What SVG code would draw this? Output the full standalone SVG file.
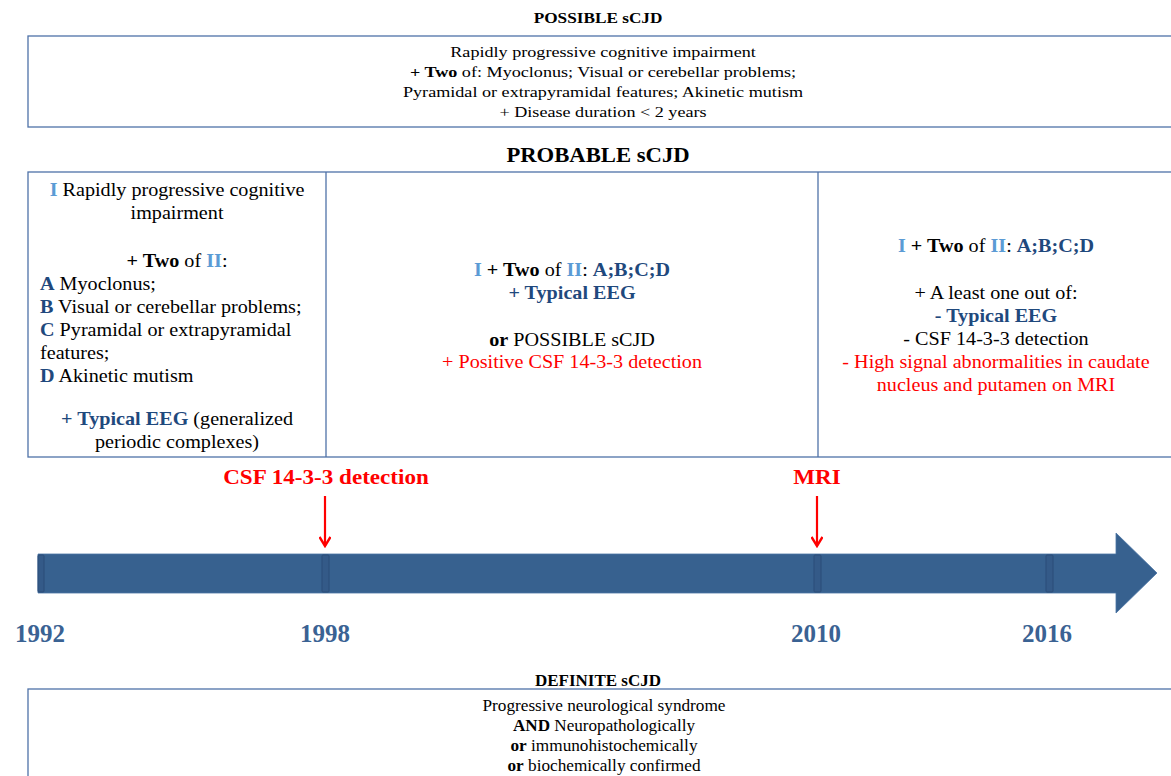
<svg xmlns="http://www.w3.org/2000/svg" width="1171" height="776" viewBox="0 0 1171 776">
<style>
text{font-family:"Liberation Serif","Times New Roman",serif;fill:#000}
.c{text-anchor:middle}
.b{font-weight:bold}
.lb{fill:#5b9bd5;font-weight:bold}
.db{fill:#1f497d;font-weight:bold}
.rd{fill:#ff0000}
.box{fill:#fff;stroke:#4f72a8;stroke-width:1.3}
.t15{font-size:15px}
.t18{font-size:18px}
.yr{font-size:25px;font-weight:bold;fill:#3a6293;text-anchor:middle}
.tick{fill:#345a88;stroke:#2b4d78;stroke-width:1}
.ra{stroke:#ff0000;stroke-width:2.2;fill:none}
</style>
<defs>
<marker id="ah" markerWidth="12" markerHeight="12" refX="10" refY="6" orient="auto" markerUnits="userSpaceOnUse" viewBox="0 0 12 12">
<path d="M1,0.5 L10,6 L1,11.5" fill="none" stroke="#ff0000" stroke-width="2.4"/>
</marker>
</defs>

<g id="possible">
<text class="c b" x="598" y="23" font-size="14" transform="matrix(1.23,0,0,1,-137.5,0)">POSSIBLE sCJD</text>
<rect class="box" x="28" y="36" width="1160" height="91"/>
<g transform="matrix(1.21,0,0,1,-126.6,0)">
<text class="c t15" x="603" y="57">Rapidly progressive cognitive impairment</text>
<text class="c t15" x="603" y="77"><tspan class="b">+ Two</tspan> of: Myoclonus; Visual or cerebellar problems;</text>
<text class="c t15" x="603" y="97">Pyramidal or extrapyramidal features; Akinetic mutism</text>
<text class="c t15" x="603" y="117">+ Disease duration &lt; 2 years</text>
</g>
</g>

<g id="probable">
<text class="c b" x="598" y="162" font-size="21" transform="matrix(1.08,0,0,1,-47.8,0)">PROBABLE sCJD</text>
<rect class="box" x="28" y="172" width="1160" height="285"/>
<line x1="326" y1="172" x2="326" y2="457" stroke="#4f72a8" stroke-width="1.3"/>
<line x1="818" y1="172" x2="818" y2="457" stroke="#4f72a8" stroke-width="1.3"/>
</g>

<g id="probable-col1">
<g transform="matrix(1.12,0,0,1,-21.2,0)">
<text class="c t18" x="177" y="196"><tspan class="lb">I</tspan> Rapidly progressive cognitive</text>
<text class="c t18" x="177" y="219">impairment</text>
<text class="c t18" x="177" y="267"><tspan class="b">+ Two</tspan> of <tspan class="lb">II</tspan>:</text>
<text class="c t18" x="177" y="425"><tspan class="db">+ Typical EEG</tspan> (generalized</text>
<text class="c t18" x="177" y="448">periodic complexes)</text>
</g>
<g transform="matrix(1.12,0,0,1,-4.8,0)">
<text class="t18" x="40" y="290"><tspan class="db">A</tspan> Myoclonus;</text>
<text class="t18" x="40" y="313"><tspan class="db">B</tspan> Visual or cerebellar problems;</text>
<text class="t18" x="40" y="336"><tspan class="db">C</tspan> Pyramidal or extrapyramidal</text>
<text class="t18" x="40" y="359">features;</text>
<text class="t18" x="40" y="382"><tspan class="db">D</tspan> Akinetic mutism</text>
</g>
</g>

<g id="probable-col2">
<g transform="matrix(1.12,0,0,1,-68.6,0)">
<text class="c t18" x="572" y="276"><tspan class="lb">I</tspan><tspan class="b"> + Two</tspan> of <tspan class="lb">II</tspan>: <tspan class="db">A;B;C;D</tspan></text>
<text class="c t18 db" x="572" y="299">+ Typical EEG</text>
<text class="c t18" x="572" y="346"><tspan class="b">or</tspan> POSSIBLE sCJD</text>
<text class="c t18 rd" x="572" y="368">+ Positive CSF 14-3-3 detection</text>
</g>
</g>

<g id="probable-col3">
<g transform="matrix(1.12,0,0,1,-119.5,0)">
<text class="c t18" x="996" y="252"><tspan class="lb">I</tspan><tspan class="b"> + Two</tspan> of <tspan class="lb">II</tspan>: <tspan class="db">A;B;C;D</tspan></text>
<text class="c t18" x="996" y="299">+ A least one out of:</text>
<text class="c t18 db" x="996" y="322">- Typical EEG</text>
<text class="c t18" x="996" y="345">- CSF 14-3-3 detection</text>
<text class="c t18 rd" x="996" y="368">- High signal abnormalities in caudate</text>
<text class="c t18 rd" x="996" y="391">nucleus and putamen on MRI</text>
</g>
</g>

<g id="timeline">
<path d="M38,554 L1116,554 L1116,533 L1157,573 L1116,613 L1116,593 L38,593 Z" fill="#37618f" stroke="#4a73a3" stroke-width="0.8"/>
<rect class="tick" x="38" y="555" width="6" height="37" rx="1"/>
<rect class="tick" x="322" y="555" width="7" height="37" rx="1"/>
<rect class="tick" x="814" y="555" width="7" height="37" rx="1"/>
<rect class="tick" x="1046" y="555" width="7" height="37" rx="1"/>
<text class="yr" x="40" y="642">1992</text>
<text class="yr" x="325" y="642">1998</text>
<text class="yr" x="816" y="642">2010</text>
<text class="yr" x="1047" y="642">2016</text>
</g>

<g id="csf-label">
<text class="c b rd" x="326" y="484" font-size="21" transform="matrix(1.1,0,0,1,-32.6,0)">CSF 14-3-3 detection</text>
</g>
<g id="mri-label">
<text class="c b rd" x="817" y="484" font-size="21" transform="matrix(1.1,0,0,1,-81.7,0)">MRI</text>
</g>

<g id="connectors">
<line class="ra" x1="325" y1="496" x2="325" y2="546" marker-end="url(#ah)"/>
<line class="ra" x1="817" y1="496" x2="817" y2="546" marker-end="url(#ah)"/>
</g>

<g id="definite">
<text class="c b" x="598" y="686" font-size="16" textLength="126" lengthAdjust="spacingAndGlyphs">DEFINITE sCJD</text>
<rect class="box" x="28" y="689" width="1160" height="100" stroke="#9db0cc" stroke-width="1.5"/>
<text class="c" x="604" y="711" font-size="16" textLength="243" lengthAdjust="spacingAndGlyphs">Progressive neurological syndrome</text>
<text class="c" x="604" y="731" font-size="16" textLength="182" lengthAdjust="spacingAndGlyphs"><tspan class="b">AND</tspan> Neuropathologically</text>
<text class="c" x="604" y="751" font-size="16" textLength="187" lengthAdjust="spacingAndGlyphs"><tspan class="b">or</tspan> immunohistochemically</text>
<text class="c" x="604" y="771" font-size="16" textLength="193" lengthAdjust="spacingAndGlyphs"><tspan class="b">or</tspan> biochemically confirmed</text>
</g>
</svg>
